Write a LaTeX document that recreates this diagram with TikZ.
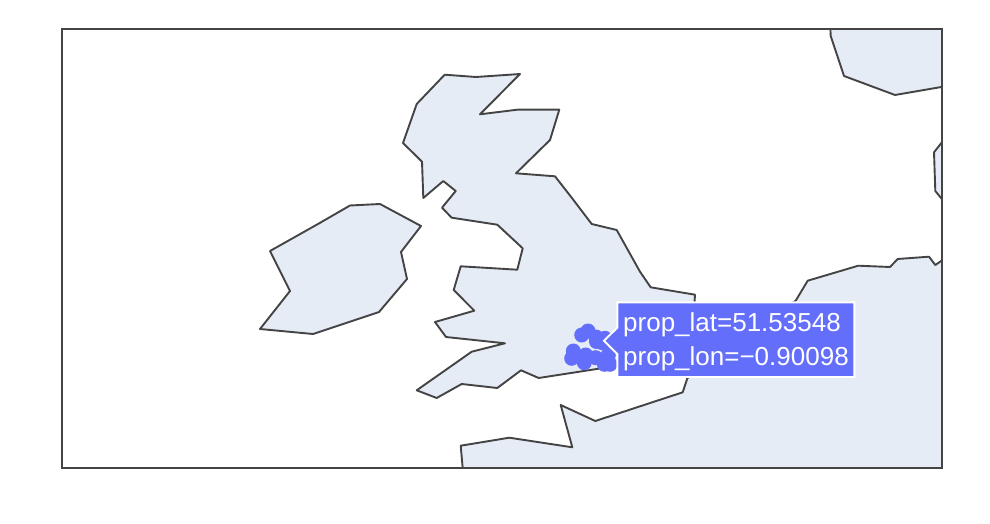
\documentclass[tikz,border=0pt]{standalone}
\usepackage{fontspec}
\setmainfont{Liberation Sans}
\definecolor{land}{HTML}{E5ECF6}
\definecolor{edgegray}{HTML}{444444}
\definecolor{marker}{HTML}{636EFA}
\tikzset{
  landshape/.style={fill=land,draw=edgegray,line width=1.9pt,line join=round},
  frameline/.style={draw=edgegray,line width=2pt},
  dot/.style={fill=marker},
  tip/.style={fill=marker,draw=white,line width=1.9pt,line join=miter},
  tiptext/.style={anchor=base west,inner sep=0pt,text=white,font=\fontsize{26}{33.8}\selectfont}
}
\begin{document}
\begin{tikzpicture}[x=1pt,y=-1pt]
\useasboundingbox (0,0) rectangle (990,524);
\fill[white] (0,0) rectangle (990,524);
\begin{scope}
\clip (62,29) rectangle (942,468);
% Ireland
\path[landshape] (260,329)--(290,291)--(270,251)--(318,224)--(350,205.5)--(380,204)--(421,226)--(401,252)--(407,279)--(379,312)--(313,334)--cycle;
% Great Britain
\path[landshape] (444.7,74.7)--(476,77)--(520,74)--(480,114.3)--(517.3,109.7)--(559.3,109.7)--(550,140)--(516,173.3)--(555,176.3)--(571.7,197.7)--(591.7,224)--(616.7,230)--(640,271.7)--(650.7,287.3)--(695,294.7)--(694,310)--(680,345)--(640,362)--(596.7,369)--(538.7,378)--(521,370.3)--(497.3,388)--(461.7,384)--(436.7,398)--(416.7,390.3)--(471.7,351.7)--(505,343.3)--(446,337)--(435,322)--(474.3,310.7)--(453.7,290)--(460.7,266.3)--(517.3,269.7)--(522.7,248.3)--(497.3,224.7)--(451.7,217.7)--(442,207.7)--(455.7,191)--(443.3,181)--(423.3,198)--(422,161.7)--(403,143)--(416.7,104)--cycle;
% Continent south
\path[landshape] (463.3,475)--(460.7,445.7)--(509.3,437.7)--(572.3,447.3)--(560.7,405)--(595.3,421)--(682.7,392.3)--(687.3,378.3)--(740,340)--(795.7,300.7)--(807.7,280.7)--(858.3,265.7)--(890,267)--(897.7,259)--(929,256.7)--(935.3,265)--(950,255)--(950,475)--cycle;
% Top right land
\path[landshape] (830,20)--(830.7,36)--(844,76)--(895,95)--(950,85.5)--(950,20)--cycle;
% Right edge land
\path[landshape] (950,132)--(934,152.3)--(935.3,191)--(950,209)--cycle;
\end{scope}
\draw[frameline] (62,29) rectangle (942,468);
% Markers
\foreach \mx/\my in {581.7/335,588/331,596/337,605/338.3,596.5/341.5,603/343,
  573.3/351,571.7/358.3,585.7/355,584.3/362.7,595.7/357.7,604.3/364.3,608.3/355,610/364.3}{
  \path[dot] (\mx,\my) circle (7.5);
}
% Hover label
\path[tip] (617.3,302.3)--(854.3,302.3)--(854.3,377)--(617.3,377)--(617.3,354)--(604,340.7)--(617.3,327.7)--cycle;
\node[tiptext] (lat) at (623,331) {prop\_lat=51.53548};
\node[tiptext] (lon) at (623,365.2) {prop\_lon=−0.90098};
\end{tikzpicture}
\end{document}
